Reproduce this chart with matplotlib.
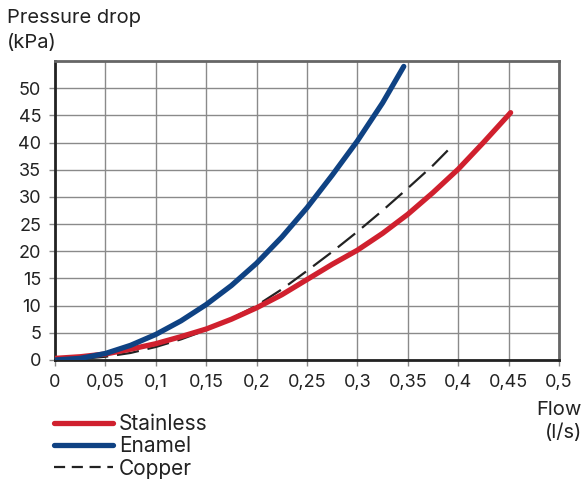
import matplotlib
matplotlib.use('Agg')
import matplotlib.pyplot as plt
from matplotlib.lines import Line2D

RED = '#d0202e'
BLUE = '#0f4283'
DARK = '#222222'
GRID = '#8a8a8a'

plt.rcParams['font.family'] = ['Inter', 'DejaVu Sans']

# flow (l/s) and pressure drop (kPa)
stainless_x = [0, 0.025, 0.05, 0.075, 0.1, 0.125, 0.15, 0.175, 0.2, 0.225, 0.25,
               0.275, 0.3, 0.325, 0.35, 0.375, 0.4, 0.425, 0.452]
stainless_y = [0.3, 0.6, 1.1, 2.0, 3.0, 4.3, 5.7, 7.5, 9.6, 12.0, 14.8,
               17.6, 20.2, 23.3, 26.8, 30.8, 35.1, 40.0, 45.5]

enamel_x = [0, 0.025, 0.05, 0.075, 0.1, 0.125, 0.15, 0.175, 0.2, 0.225, 0.25,
            0.275, 0.3, 0.325, 0.346]
enamel_y = [0, 0.3, 1.2, 2.7, 4.7, 7.2, 10.2, 13.7, 17.8, 22.6, 28.0,
            34.0, 40.3, 47.3, 54.0]

copper_x = [0, 0.025, 0.05, 0.075, 0.1, 0.125, 0.15, 0.175, 0.2, 0.225, 0.25,
            0.275, 0.3, 0.325, 0.35, 0.375, 0.392]
copper_y = [0, 0.2, 0.6, 1.3, 2.4, 3.8, 5.5, 7.6, 10.0, 13.0, 16.4,
            19.9, 23.6, 27.5, 31.6, 35.8, 39.0]

x_ticks = [0, 0.05, 0.1, 0.15, 0.2, 0.25, 0.3, 0.35, 0.4, 0.45, 0.5]
x_labels = ['0', '0,05', '0,1', '0,15', '0,2', '0,25', '0,3', '0,35', '0,4', '0,45', '0,5']
y_ticks = [0, 5, 10, 15, 20, 25, 30, 35, 40, 45, 50]

fig = plt.figure(figsize=(5.85, 4.84), dpi=100)
ax = fig.add_axes([55 / 585, 1 - 360 / 484, 504 / 585, 299 / 484])

ax.plot(copper_x, copper_y, color=DARK, lw=1.6, dashes=(10, 4), zorder=3)
ax.plot(stainless_x, stainless_y, color=RED, lw=3.8, solid_capstyle='round',
        solid_joinstyle='round', zorder=4)
ax.plot(enamel_x, enamel_y, color=BLUE, lw=3.8, solid_capstyle='round',
        solid_joinstyle='round', zorder=4)

ax.set_xlim(0, 0.5)
ax.set_ylim(0, 55)
ax.set_xticks(x_ticks)
ax.set_xticklabels(x_labels)
ax.set_yticks(y_ticks)
ax.grid(True, color=GRID, lw=1.0)
ax.set_axisbelow(True)
ax.tick_params(length=4, width=1, color=GRID, labelsize=13, pad=6, labelcolor='#222222')

for side in ['left', 'bottom']:
    ax.spines[side].set_color(DARK)
    ax.spines[side].set_linewidth(2)
for side in ['top', 'right']:
    ax.spines[side].set_color('#666666')
    ax.spines[side].set_linewidth(2)

fs = 14.5
fig.text(7 / 585, 1 - 18 / 484, 'Pressure drop', fontsize=fs, va='center', ha='left', color='#222222')
fig.text(7 / 585, 1 - 43 / 484, '(kPa)', fontsize=fs, va='center', ha='left', color='#222222')
fig.text(582 / 585, 1 - 410 / 484, 'Flow', fontsize=fs, va='center', ha='right', color='#222222')
fig.text(582 / 585, 1 - 433 / 484, '(l/s)', fontsize=fs, va='center', ha='right', color='#222222')

handles = [
    Line2D([], [], color=RED, lw=3.8, solid_capstyle='round'),
    Line2D([], [], color=BLUE, lw=3.8, solid_capstyle='round'),
    Line2D([], [], color=DARK, lw=1.6, dashes=(5, 3)),
]
fig.legend(handles, ['Stainless', 'Enamel', 'Copper'], loc='upper left',
           bbox_to_anchor=(44 / 585, 1 - 404 / 484), frameon=False, fontsize=15,
           handlelength=2.8, handletextpad=0.3, labelspacing=0.1, borderpad=0,
           labelcolor='#222222')

fig.savefig('out.png', dpi=100)
